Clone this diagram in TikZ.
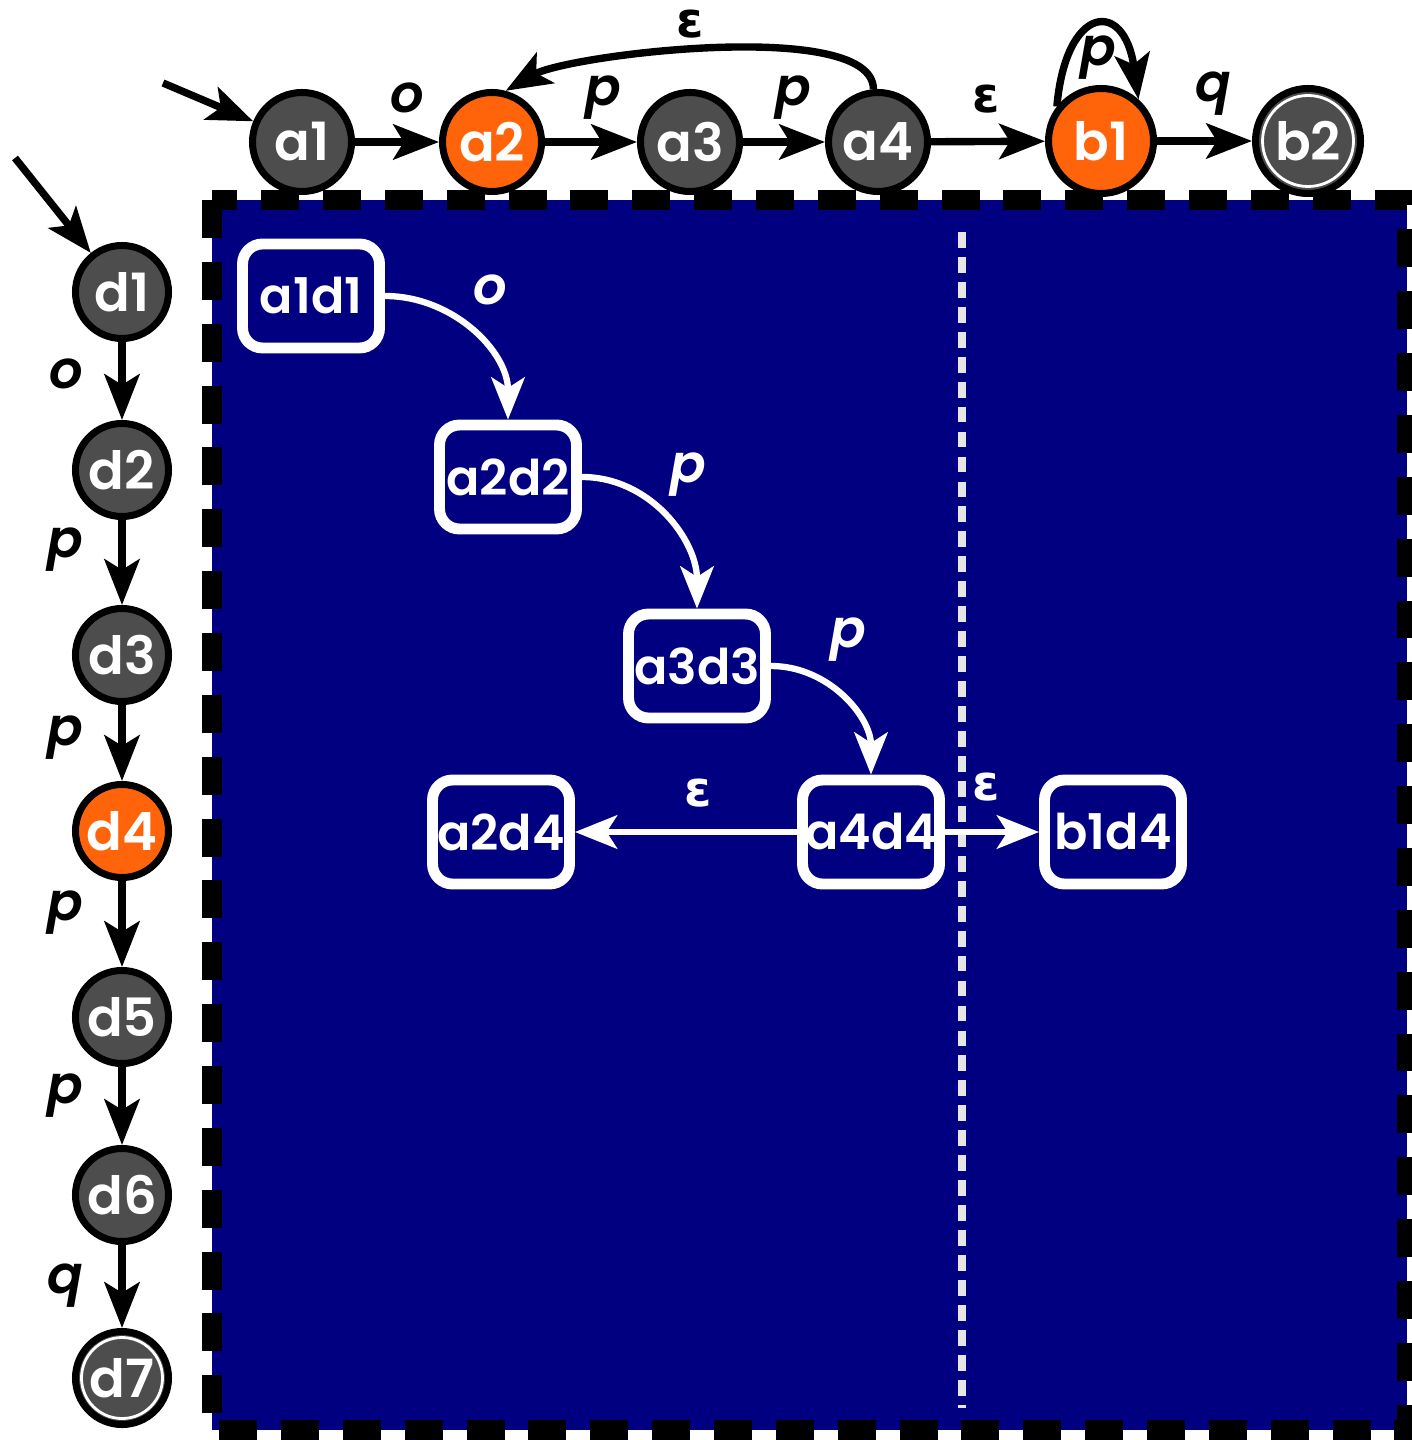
\documentclass[tikz,border=0pt]{standalone}
\usepackage{fontspec}
\setmainfont{Poppins}[BoldFont={Poppins SemiBold},BoldItalicFont={Poppins SemiBold Italic}]
\newfontfamily\epsfont{DejaVu Sans}
\usetikzlibrary{arrows.meta}
\definecolor{navyb}{HTML}{000080}
\definecolor{stgray}{HTML}{4D4D4D}
\definecolor{storange}{HTML}{FF640A}
\definecolor{dotgray}{HTML}{E6E6E6}
\begin{document}
\begin{tikzpicture}[x=0.1mm,y=-0.1mm,
  font=\bfseries\fontsize{15}{18}\selectfont,
  st/.style={circle,draw=black,line width=2pt,fill=stgray,text=white,inner sep=0pt,minimum size=9.9mm},
  bigst/.style={minimum size=10.5mm},
  smallst/.style={minimum size=9.3mm},
  acc/.style={fill=storange},
  ring/.style={draw=white,line width=0.8pt},
  pr/.style={rounded corners=2mm,draw=white,line width=3.1pt,fill=navyb,text=white,minimum width=13.7mm,minimum height=10.4mm,inner sep=0pt,font=\bfseries\fontsize{14}{17}\selectfont},
  blk/.style={-{Stealth[length=13pt,width=10pt,inset=3pt]},line width=2.1pt,draw=black},
  wht/.style={-{Stealth[length=12pt,width=9.5pt,inset=3pt]},line width=1.8pt,draw=white},
  lab/.style={inner sep=0pt,font=\bfseries\itshape\fontsize{15}{18}\selectfont},
  eps/.style={inner sep=0pt,font=\epsfont\bfseries\fontsize{14}{17}\selectfont},
]
\useasboundingbox (0,0) rectangle (1411,1440);
% product area
\fill[navyb] (212,200) rectangle (1407,1430);
\draw[line width=5.7pt,dash pattern=on 10.8pt off 6.8pt] (212,200) rectangle (1407,1430);
\draw[dotgray,line width=2.3pt,dash pattern=on 4.5pt off 2.6pt] (962,232) -- (962,1408);

% top automaton
\coordinate (ia) at (163,83);
\node[st] (a1) at (302,142) {a1};
\node[st,acc] (a2) at (492,142) {a2};
\node[st] (a3) at (690,142) {a3};
\node[st] (a4) at (878,142) {a4};
\node[st,acc,bigst] (b1) at (1101,141) {b1};
\node[st,bigst] (b2) at (1308,141) {b2};
\draw[ring] (b2.center) circle[radius=4.55mm];

\draw[blk] (ia) -- (a1);
\draw[blk] (a1) -- (a2);
\draw[blk] (a2) -- (a3);
\draw[blk] (a3) -- (a4);
\draw[blk] (a4) -- (b1);
\draw[blk] (b1) -- (b2);
\draw[blk] (a4.95) to[out=90,in=30,looseness=0.5] (a2.75);
\draw[blk] (b1.142) to[out=85,in=98,looseness=3.2] (b1.48);

\node[lab] (lo1) at (407,98) {o};
\node[lab] (lp1) at (603,98) {p};
\node[lab] (lp2) at (793,98) {p};
\node[eps] (le1) at (986,99) {ε};
\node[lab] (lq1) at (1213,94) {q};
\node[eps] (le2) at (690,24) {ε};
\node[lab] (lp3) at (1098,58) {p};

% left automaton
\coordinate (id) at (15,158);
\node[st,smallst] (d1) at (122,292) {d1};
\node[st,smallst] (d2) at (122,470) {d2};
\node[st,smallst] (d3) at (122,655) {d3};
\node[st,smallst,acc] (d4) at (122,831) {d4};
\node[st,smallst] (d5) at (122,1017) {d5};
\node[st,smallst] (d6) at (122,1195) {d6};
\node[st,smallst] (d7) at (122,1378) {d7};
\draw[ring] (d7.center) circle[radius=4.05mm];

\draw[blk] (id) -- (d1);
\draw[blk] (d1) -- (d2);
\draw[blk] (d2) -- (d3);
\draw[blk] (d3) -- (d4);
\draw[blk] (d4) -- (d5);
\draw[blk] (d5) -- (d6);
\draw[blk] (d6) -- (d7);

\node[lab] (lo2) at (66,374) {o};
\node[lab] (lp4) at (65,550) {p};
\node[lab] (lp5) at (65,738) {p};
\node[lab] (lp6) at (65,913) {p};
\node[lab] (lp7) at (65,1096) {p};
\node[lab] (lq2) at (65,1286) {q};

% product states
\node[pr] (a1d1) at (311,296) {a1d1};
\node[pr] (a2d2) at (508,477) {a2d2};
\node[pr] (a3d3) at (697,666) {a3d3};
\node[pr] (a4d4) at (871,832) {a4d4};
\node[pr] (a2d4) at (501,832) {a2d4};
\node[pr] (b1d4) at (1113,832) {b1d4};

\draw[wht] (a1d1.east) to[out=0,in=90] (a2d2.north);
\draw[wht] (a2d2.east) to[out=0,in=90] (a3d3.north);
\draw[wht] (a3d3.east) to[out=0,in=90] (a4d4.north);
\draw[wht] (a4d4) -- (a2d4);
\draw[wht] (a4d4) -- (b1d4);

\node[lab,text=white] (lo3) at (490,290) {o};
\node[lab,text=white] (lp8) at (688,475) {p};
\node[lab,text=white] (lp9) at (848,640) {p};
\node[eps,text=white] (le3) at (698,793) {ε};
\node[eps,text=white] (le4) at (986,787) {ε};
\end{tikzpicture}
\end{document}
